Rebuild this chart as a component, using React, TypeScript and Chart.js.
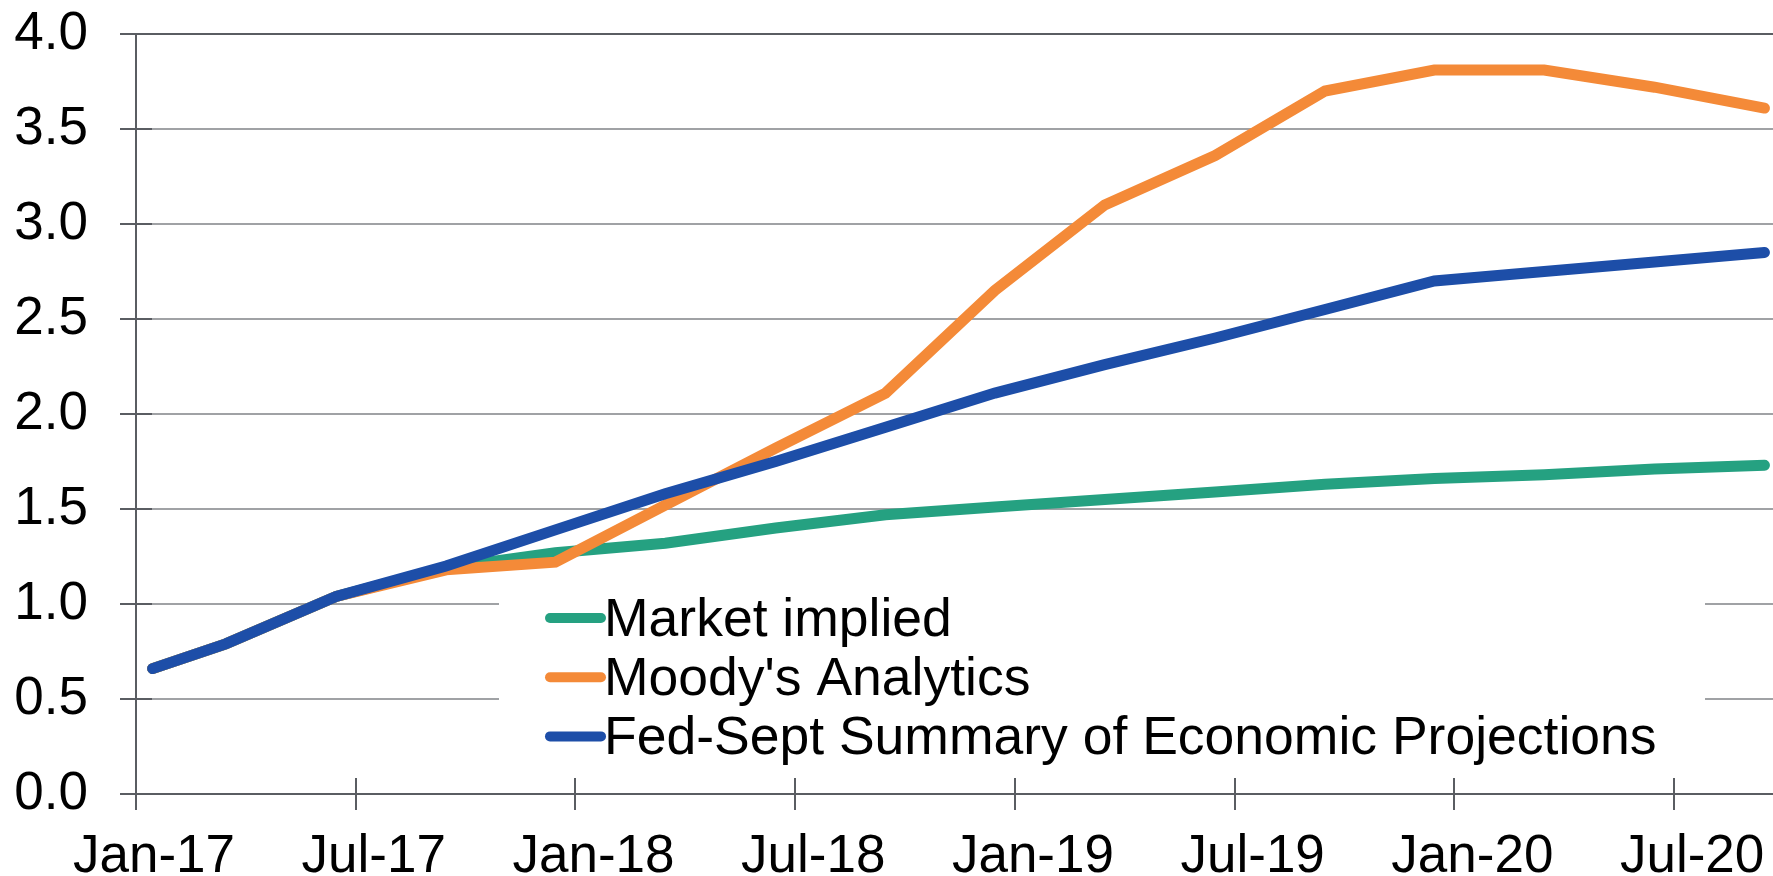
import React, { useEffect, useRef } from 'react';
import { Chart, registerables } from 'chart.js';

Chart.register(...registerables);

// ---- Data ----
const pointDates = [
  '2017-01-15', '2017-03-15', '2017-06-15', '2017-09-15',
  '2017-12-15', '2018-03-15', '2018-06-15', '2018-09-15',
  '2018-12-15', '2019-03-15', '2019-06-15', '2019-09-15',
  '2019-12-15', '2020-03-15', '2020-06-15', '2020-09-15',
];
const marketImplied = [0.66, 0.79, 1.04, 1.19, 1.27, 1.32, 1.40, 1.47, 1.51, 1.55, 1.59, 1.63, 1.66, 1.68, 1.71, 1.73];
const moodysAnalytics = [0.66, 0.79, 1.04, 1.18, 1.22, 1.52, 1.82, 2.11, 2.65, 3.10, 3.36, 3.70, 3.81, 3.81, 3.72, 3.61];
const fedSeptSEP = [0.66, 0.79, 1.04, 1.20, 1.39, 1.58, 1.75, 1.93, 2.11, 2.26, 2.40, 2.55, 2.70, 2.75, 2.80, 2.85];
const seriesLabels = ['Market implied', "Moody's Analytics", 'Fed-Sept Summary of Economic Projections'];
const seriesColors = ['#25a181', '#f48a38', '#1d4ea8'];
const xTickLabels = ['Jan-17', 'Jul-17', 'Jan-18', 'Jul-18', 'Jan-19', 'Jul-19', 'Jan-20', 'Jul-20'];
const yMin = 0;
const yMax = 4;
const yStep = 0.5;

// ---- Styling ----
const FONT = '"Liberation Sans", Arial, Helvetica, sans-serif';
const AXIS_FONT_SIZE = 53;
const LEGEND_FONT_SIZE = 53.5;
const AXIS = '#5a5d62';
const GRID = '#a0a2a5';
const TICK = 16;

const START_YEAR = 2017;
function monthsSinceStart(d: string): number {
  const [y, m, day] = d.split('-').map(Number);
  const dim = new Date(y, m, 0).getDate();
  return (y - START_YEAR) * 12 + (m - 1) + (day - 1) / dim;
}

const axisAndLegendPlugin = {
  id: 'axisAndLegend',
  beforeDatasetsDraw(chart: any) {
    const { ctx, chartArea: a, scales } = chart;
    const xs = scales.x;
    const ys = scales.y;
    ctx.save();

    // legend box (white background hides grid lines)
    const boxL = 499, boxR = 1705, boxT = 585, boxB = 772;
    ctx.fillStyle = '#ffffff';
    ctx.fillRect(boxL, boxT, boxR - boxL, boxB - boxT);

    // axes and crossing tick marks
    ctx.strokeStyle = AXIS;
    ctx.lineWidth = 2;
    ctx.lineCap = 'butt';
    ctx.beginPath();
    ctx.moveTo(a.left, a.top);
    ctx.lineTo(a.left, a.bottom + TICK);
    ctx.moveTo(a.left - TICK, a.bottom);
    ctx.lineTo(a.right, a.bottom);
    ys.ticks.forEach((t: any) => {
      const py = Math.round(ys.getPixelForValue(t.value));
      ctx.moveTo(a.left - TICK, py);
      ctx.lineTo(a.left + TICK, py);
    });
    xs.ticks.forEach((t: any) => {
      const px = Math.round(xs.getPixelForValue(t.value));
      ctx.moveTo(px, a.bottom - TICK);
      ctx.lineTo(px, a.bottom + TICK);
    });
    ctx.stroke();

    // legend entries
    const rowY0 = 618;
    const rowGap = 59.2;
    ctx.font = `${LEGEND_FONT_SIZE}px ${FONT}`;
    ctx.textBaseline = 'alphabetic';
    ctx.textAlign = 'left';
    seriesLabels.forEach((label, i) => {
      const ry = rowY0 + i * rowGap;
      ctx.strokeStyle = seriesColors[i];
      ctx.lineWidth = 10;
      ctx.lineCap = 'round';
      ctx.beginPath();
      ctx.moveTo(550, ry);
      ctx.lineTo(601, ry);
      ctx.stroke();
      ctx.fillStyle = '#000000';
      ctx.fillText(label, 604, ry + 18);
    });
    ctx.restore();
  },
};

export default function App() {
  const canvasRef = useRef<HTMLCanvasElement | null>(null);

  useEffect(() => {
    const canvas = canvasRef.current;
    if (!canvas) return;
    const xs = pointDates.map(monthsSinceStart);
    const series = [marketImplied, moodysAnalytics, fedSeptSEP];
    const drawOrder = [3, 2, 1];
    const tickValues = xTickLabels.map((_, i) => i * 6);

    const chart = new Chart(canvas, {
      type: 'line',
      data: {
        datasets: series.map((vals, i) => ({
          label: seriesLabels[i],
          data: vals.map((v, j) => ({ x: xs[j], y: v })),
          borderColor: seriesColors[i],
          backgroundColor: seriesColors[i],
          borderWidth: 11,
          borderCapStyle: 'round' as const,
          borderJoinStyle: 'miter' as const,
          pointRadius: 0,
          pointHoverRadius: 0,
          tension: 0,
          fill: false,
          order: drawOrder[i],
        })),
      },
      options: {
        animation: false,
        responsive: false,
        maintainAspectRatio: false,
        layout: { padding: { top: 34, right: 0, left: 0, bottom: 0 } },
        plugins: {
          legend: { display: false },
          tooltip: { enabled: false },
          title: { display: false },
        },
        scales: {
          x: {
            type: 'linear',
            min: 0,
            max: 44.7,
            afterBuildTicks: (scale: any) => {
              scale.ticks = tickValues.map((v) => ({ value: v }));
            },
            afterFit: (scale: any) => {
              scale.height = 82;
              scale.paddingLeft = 0;
              scale.paddingRight = 0;
            },
            grid: { display: false, drawTicks: false },
            border: { display: false },
            ticks: {
              autoSkip: false,
              maxRotation: 0,
              minRotation: 0,
              padding: 32,
              labelOffset: 18,
              color: '#000000',
              font: { family: FONT, size: AXIS_FONT_SIZE },
              callback: (v: any) => {
                const idx = Math.round(Number(v) / 6);
                return xTickLabels[idx] ?? '';
              },
            },
          },
          y: {
            type: 'linear',
            min: yMin,
            max: yMax,
            afterFit: (scale: any) => {
              scale.width = 136;
              scale.paddingTop = 0;
              scale.paddingBottom = 0;
            },
            grid: {
              drawTicks: false,
              lineWidth: 2,
              color: (c: any) => (c.tick && (c.tick.value === yMax || c.tick.value === yMin) ? AXIS : GRID),
            },
            border: { display: false },
            ticks: {
              stepSize: yStep,
              padding: 48,
              color: '#000000',
              font: { family: FONT, size: AXIS_FONT_SIZE },
              callback: (v: any) => Number(v).toFixed(1),
            },
          },
        },
      },
      plugins: [axisAndLegendPlugin],
    });
    return () => chart.destroy();
  }, []);

  return (
    <div style={{ position: 'fixed', left: 0, top: 0, width: 1773, height: 876, background: '#ffffff' }}>
      <canvas ref={canvasRef} width={1773} height={876} style={{ display: 'block' }} />
    </div>
  );
}
